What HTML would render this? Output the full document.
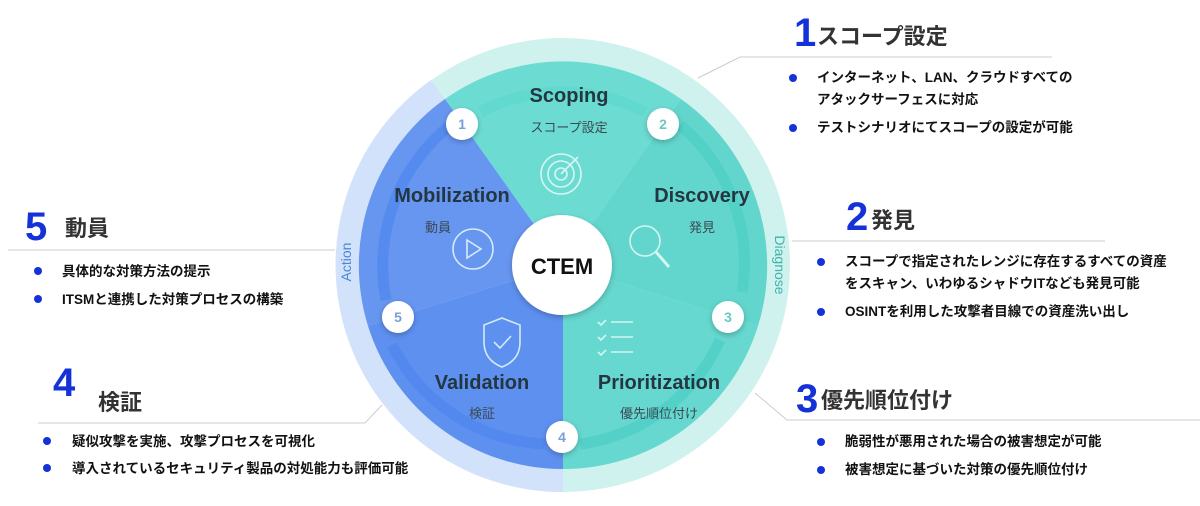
<!DOCTYPE html>
<html><head><meta charset="utf-8"><style>
html,body{margin:0;padding:0;background:#fff;width:1200px;height:506px;overflow:hidden}
svg text{font-family:"Liberation Sans","Noto Sans CJK JP",sans-serif}
.h{font-size:22px;font-weight:bold;fill:#333}
.n{font-size:40px;font-weight:bold;fill:#1432d8}
.b{font-size:13.5px;font-weight:bold;fill:#111}
.lab{font-size:20px;font-weight:bold;fill:#243642;text-anchor:middle}
.sub{font-size:13px;fill:#3a4a55;text-anchor:middle}
.num{font-size:14px;font-weight:bold;fill:#7aa0d8;text-anchor:middle}
</style></head><body>
<svg width="1200" height="506" viewBox="0 0 1200 506" xmlns="http://www.w3.org/2000/svg">
<defs>
<filter id="sh" x="-30%" y="-30%" width="160%" height="160%"><feDropShadow dx="0" dy="2" stdDeviation="3" flood-color="#000" flood-opacity="0.25"/></filter>
</defs>
<!-- outer ring -->
<circle cx="563" cy="265" r="227" fill="#cff2ee"/>
<path d="M563,265 L431,80 A227,227 0 0 0 563,492 Z" fill="#d2e2fb"/>
<!-- sectors -->
<path d="M563,265 L445,99 A204,204 0 0 1 681,99 Z" fill="#6cdcd3"/>
<path d="M563,265 L681,99 A204,204 0 0 1 758,326 Z" fill="#62d6cc"/>
<path d="M563,265 L758,326 A204,204 0 0 1 563,469 Z" fill="#66d8cf"/>
<path d="M563,265 L563,469 A204,204 0 0 1 368,326 Z" fill="#5e90f0"/>
<path d="M563,265 L368,326 A204,204 0 0 1 445,99 Z" fill="#6796f0"/>
<!-- inner track -->
<path d="M453,123 A180,180 0 0 0 386,300" fill="none" stroke="#4f86ee" stroke-width="11" opacity="0.7"/>
<path d="M392,345 A180,180 0 0 0 545,444" fill="none" stroke="#4f86ee" stroke-width="11" opacity="0.7"/>
<path d="M580,444 A180,180 0 0 0 720,340" fill="none" stroke="#4ccfc4" stroke-width="11" opacity="0.7"/>
<path d="M742,292 A180,180 0 0 0 680,125" fill="none" stroke="#4ccfc4" stroke-width="11" opacity="0.7"/>
<path d="M645,112 A180,180 0 0 0 480,112" fill="none" stroke="#56d6cb" stroke-width="11" opacity="0.5"/>
<!-- bubbles -->
<g filter="url(#sh)" fill="#fff">
<circle cx="462" cy="124" r="16"/><circle cx="663" cy="124" r="16"/><circle cx="728" cy="317" r="16"/><circle cx="562" cy="437" r="16"/><circle cx="398" cy="317" r="16"/>
<circle cx="562" cy="265" r="50"/>
</g>
<text class="num" x="462" y="129">1</text><text class="num" x="663" y="129" style="fill:#6cc9c2">2</text><text class="num" x="728" y="322" style="fill:#6cc9c2">3</text><text class="num" x="562" y="442">4</text><text class="num" x="398" y="322">5</text>
<text x="562" y="274" text-anchor="middle" style="font-size:22px;font-weight:bold;fill:#111">CTEM</text>
<!-- labels -->
<text class="lab" x="569" y="102">Scoping</text><text class="sub" x="569" y="132">スコープ設定</text>
<text class="lab" x="452" y="202">Mobilization</text><text class="sub" x="438" y="232">動員</text>
<text class="lab" x="702" y="202">Discovery</text><text class="sub" x="702" y="232">発見</text>
<text class="lab" x="482" y="389">Validation</text><text class="sub" x="482" y="418">検証</text>
<text class="lab" x="659" y="389">Prioritization</text><text class="sub" x="659" y="418">優先順位付け</text>
<!-- icons -->
<g fill="none" stroke="#e8fbf9" stroke-width="1.6" opacity="0.85">
<circle cx="561" cy="174" r="20"/><circle cx="561" cy="174" r="13"/><circle cx="561" cy="174" r="6"/><line x1="561" y1="174" x2="578" y2="157"/>
<circle cx="473" cy="249" r="20"/><path d="M467,240 L481,249 L467,258 Z"/>
<circle cx="645" cy="241" r="15"/><line x1="656" y1="252" x2="669" y2="267" stroke-width="3"/>
<path d="M502,318 L520,325 L520,342 Q520,360 502,367 Q484,360 484,342 L484,325 Z"/><path d="M494,342 L500,348 L511,336"/>
<path d="M598,322 l3,3 l5,-5 M598,337 l3,3 l5,-5 M598,352 l3,3 l5,-5 M611,322 h22 M611,337 h22 M611,352 h22"/>
</g>
<text x="0" y="0" transform="translate(351,262) rotate(-90)" text-anchor="middle" style="font-size:14px;fill:#4a86d6">Action</text>
<text x="0" y="0" transform="translate(775,265) rotate(90)" text-anchor="middle" style="font-size:14px;fill:#3fb3ab">Diagnose</text>
<!-- connector lines -->
<g stroke="#ccc" stroke-width="1" fill="none">
<path d="M698,78 L740,57 L1052,57"/>
<path d="M792,241 L1105,241"/>
<path d="M755,393 L787,420 L1200,420"/>
<path d="M8,250 L335,250"/>
<path d="M38,423 L365,423 L382,405"/>
</g>
<!-- right texts -->
<text class="n" x="794" y="46">1</text><text class="h" x="817" y="44">スコープ設定</text>
<g fill="#1432d8"><circle cx="793" cy="78" r="4"/><circle cx="793" cy="128" r="4"/>
<circle cx="821" cy="262" r="4"/><circle cx="821" cy="312" r="4"/>
<circle cx="821" cy="442" r="4"/><circle cx="821" cy="470" r="4"/>
<circle cx="38" cy="271" r="4"/><circle cx="38" cy="299" r="4"/>
<circle cx="47" cy="441" r="4"/><circle cx="47" cy="468" r="4"/></g>
<text class="b" x="817" y="82">インターネット、LAN、クラウドすべての</text>
<text class="b" x="817" y="104">アタックサーフェスに対応</text>
<text class="b" x="817" y="132">テストシナリオにてスコープの設定が可能</text>
<text class="n" x="846" y="230">2</text><text class="h" x="871" y="228">発見</text>
<text class="b" x="845" y="266">スコープで指定されたレンジに存在するすべての資産</text>
<text class="b" x="845" y="288">をスキャン、いわゆるシャドウITなども発見可能</text>
<text class="b" x="845" y="316">OSINTを利用した攻撃者目線での資産洗い出し</text>
<text class="n" x="796" y="412">3</text><text class="h" x="821" y="408">優先順位付け</text>
<text class="b" x="845" y="446">脆弱性が悪用された場合の被害想定が可能</text>
<text class="b" x="845" y="474">被害想定に基づいた対策の優先順位付け</text>
<!-- left texts -->
<text class="n" x="25" y="240">5</text><text class="h" x="65" y="236">動員</text>
<text class="b" x="62" y="276">具体的な対策方法の提示</text>
<text class="b" x="62" y="304">ITSMと連携した対策プロセスの構築</text>
<text class="n" x="53" y="396">4</text><text class="h" x="98" y="410">検証</text>
<text class="b" x="72" y="446">疑似攻撃を実施、攻撃プロセスを可視化</text>
<text class="b" x="72" y="473">導入されているセキュリティ製品の対処能力も評価可能</text>
</svg>
</body></html>
